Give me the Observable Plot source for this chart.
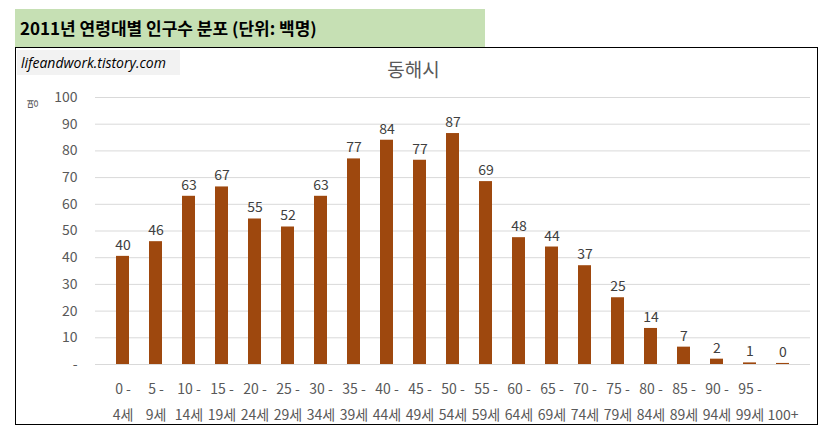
<!DOCTYPE html>
<html><head><meta charset="utf-8">
<script src="https://cdn.jsdelivr.net/npm/d3@7"></script>
<script src="https://cdn.jsdelivr.net/npm/@observablehq/plot@0.6"></script>
<style>
body{margin:0;background:#fff;font-family:"Noto Sans CJK KR","Noto Sans",sans-serif;}
#wrap{position:relative;width:827px;height:439px;}
#title{position:absolute;left:15px;top:9px;width:470px;height:38px;background:#c6e0b4;font-weight:bold;font-size:17px;line-height:38px;padding-left:5px;box-sizing:border-box;color:#000;}
#box{position:absolute;left:15px;top:47px;width:803px;height:378px;border:1px solid #000;box-sizing:border-box;}
#wm{position:absolute;left:17px;top:50px;width:163px;height:25px;background:#f2f2f2;font-style:italic;font-size:14px;line-height:25px;padding-left:4px;box-sizing:border-box;font-family:"Open Sans",sans-serif;}
#chart{position:absolute;left:0;top:47px;}
#ct{position:absolute;left:0;width:827px;top:55px;text-align:center;font-size:19px;color:#595959;}
#yl{position:absolute;left:27px;top:96px;font-size:11px;color:#595959;transform:rotate(-90deg);}
</style></head><body>
<div id="wrap">
<div id="title">2011년 연령대별 인구수 분포 (단위: 백명)</div>
<div id="box"></div>
<div id="chart"></div>
<div id="wm">lifeandwork.tistory.com</div>
<div id="ct">동해시</div>
<div id="yl">명</div>
</div>
<script>
const categories=["0 -\n4세","5 -\n9세","10 -\n14세","15 -\n19세","20 -\n24세","25 -\n29세","30 -\n34세","35 -\n39세","40 -\n44세","45 -\n49세","50 -\n54세","55 -\n59세","60 -\n64세","65 -\n69세","70 -\n74세","75 -\n79세","80 -\n84세","85 -\n89세","90 -\n94세","95 -\n99세","\n100+"];
const values=[40.5,46,63,66.5,54.5,51.5,63,77,84,76.5,86.5,68.5,47.5,44,37,25,13.5,6.5,2,0.6,0.4];
const labels=[40,46,63,67,55,52,63,77,84,77,87,69,48,44,37,25,14,7,2,1,0];
const yTicks=[0,10,20,30,40,50,60,70,80,90,100];
const data=categories.map((c,i)=>({c,v:values[i],l:labels[i]}));
const chart=Plot.plot({
  width:827,height:378,marginTop:50,marginBottom:61,marginLeft:95,marginRight:17,
  style:{fontSize:"14px",color:"#595959",fontFamily:"'Noto Sans CJK KR',sans-serif",background:"transparent"},
  x:{domain:categories,padding:0.62,label:null},
  y:{domain:[0,100],label:null},
  marks:[
    Plot.gridY(yTicks,{stroke:"#d9d9d9",strokeOpacity:1}),
    Plot.barY(data,{x:"c",y:"v",fill:"#9e480e"}),
    Plot.text(data,{x:"c",y:"v",text:d=>String(d.l),dy:-11,fill:"#404040",fontSize:14}),
    Plot.axisY(yTicks,{tickSize:0,tickPadding:18,tickFormat:d=>d===0?"-":d,fill:"#595959",fontSize:14}),
    Plot.axisX({tickSize:0,tickPadding:12,fill:"#595959",fontSize:14,lineHeight:1.8})
  ]
});
document.getElementById("chart").appendChild(chart);
</script>
</body></html>
